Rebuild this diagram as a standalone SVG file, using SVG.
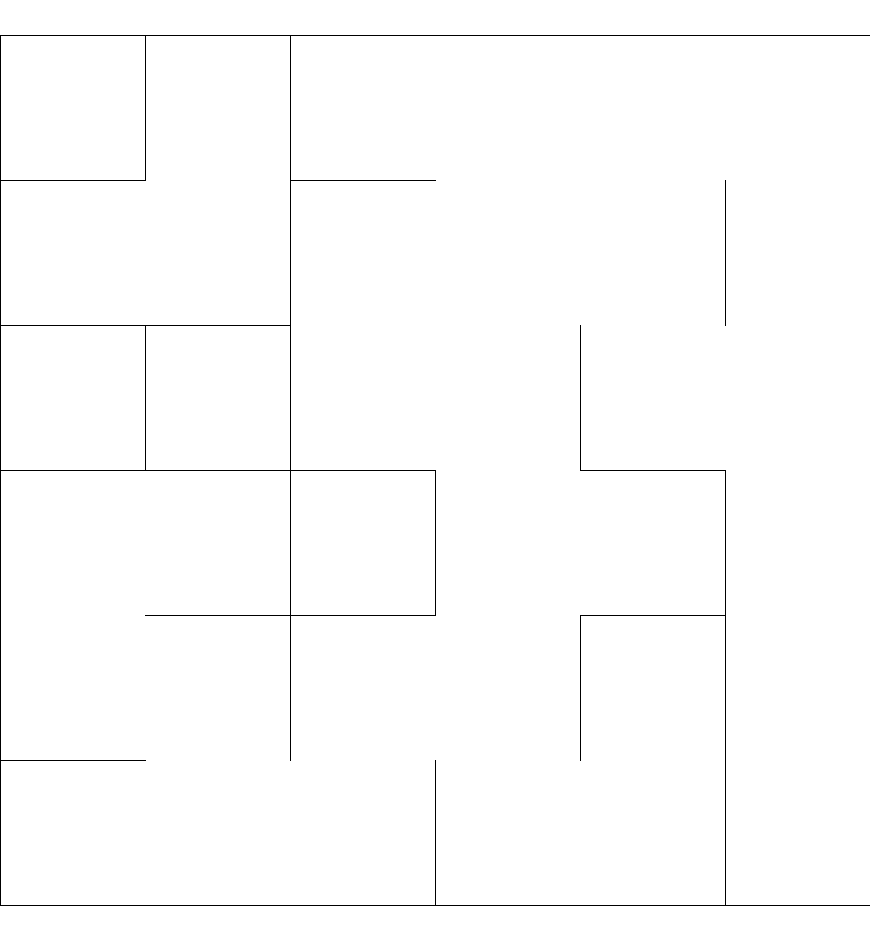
<svg xmlns="http://www.w3.org/2000/svg" width="870" height="940" viewBox="0 0 870 940">
<style>
.wall{fill:none;stroke:#000;stroke-width:1;stroke-linecap:square}
</style>
<rect width="870" height="940" fill="#fff"/>
<g id="maze" class="wall" transform="translate(0.5,0.5)">
<path d="M0 35H869 M0 180H145 M290 180H435 M0 325H290 M0 470H435 M580 470H725 M145 615H435 M580 615H725 M0 760H145 M0 905H869"/>
<path d="M0 35V905 M145 35V180 M145 325V470 M290 35V760 M435 470V615 M435 760V905 M580 325V470 M580 615V760 M725 180V325 M725 470V905"/>
</g>
</svg>
